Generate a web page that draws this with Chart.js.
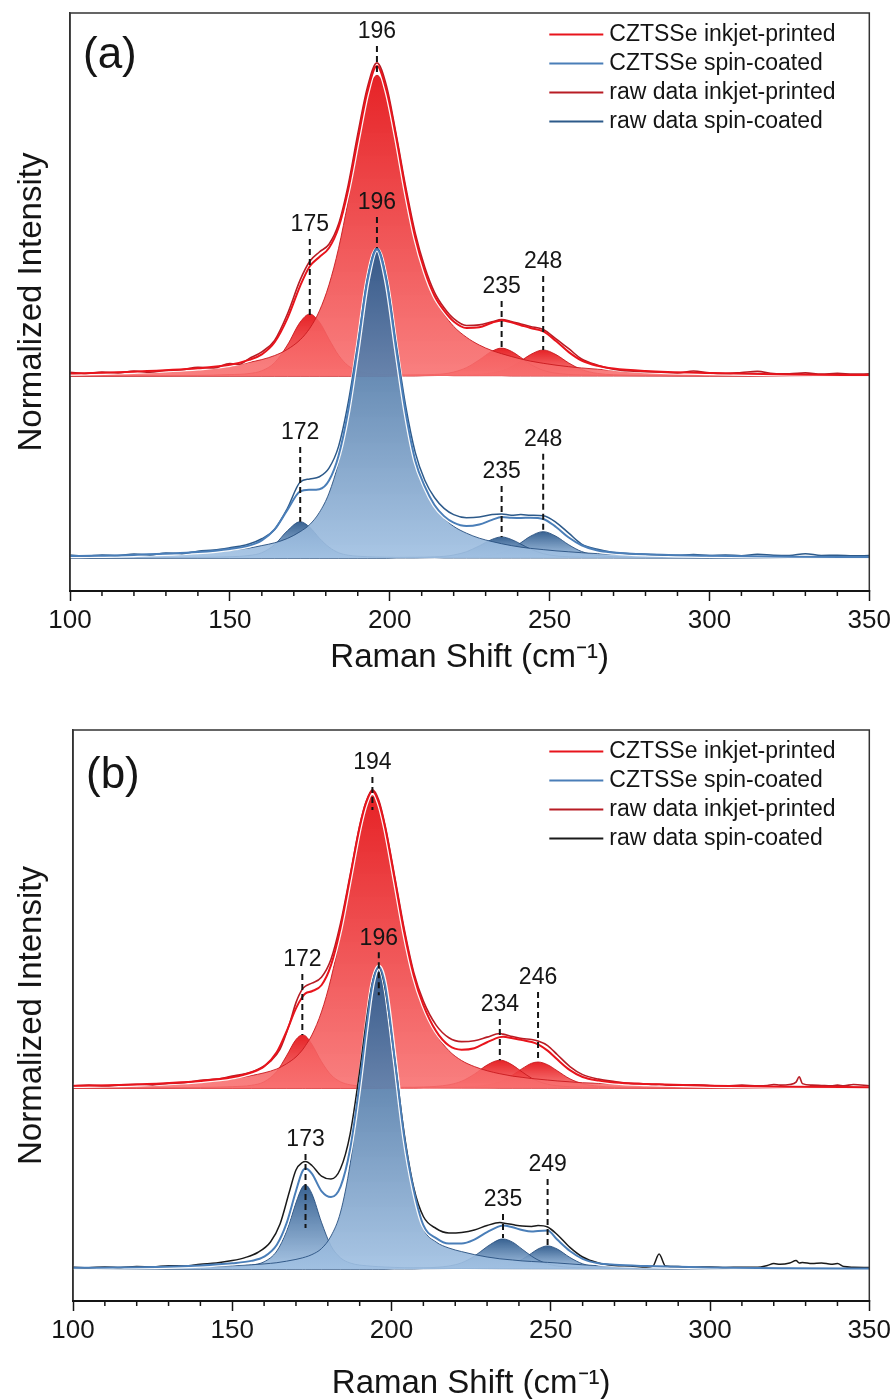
<!DOCTYPE html>
<html>
<head>
<meta charset="utf-8">
<script src="https://cdn.jsdelivr.net/npm/chart.js@4.4.1/dist/chart.umd.min.js"></script>
<style>
  html, body { margin: 0; padding: 0; background: #fff; }
  #wrapA { position: absolute; left: 0; top: 0; width: 895px; height: 700px; }
  #wrapB { position: absolute; left: 0; top: 700px; width: 895px; height: 705px; }
</style>
</head>
<body>
<div id="wrapA"><canvas id="chartA"></canvas></div>
<div id="wrapB"><canvas id="chartB"></canvas></div>
<script>
// ---------- panel (a) ----------
const shiftA = [100,120,140,150,156,160,164,168,172,175,178,181,184,187,190,193,196,199,202,205,208,211,214,217,220,224,228,232,235,238,241,244,248,252,256,260,265,270,280,300,325,350];
const fitRedA = [0.008,0.014,0.025,0.036,0.052,0.07,0.109,0.186,0.291,0.354,0.384,0.413,0.479,0.6,0.761,0.915,1.0,0.92,0.77,0.596,0.446,0.337,0.259,0.211,0.176,0.155,0.157,0.172,0.179,0.173,0.164,0.155,0.144,0.113,0.077,0.05,0.033,0.024,0.016,0.0094,0.005,0.003];
const p175RedA = [0,0.001,0.002,0.0045,0.008,0.017,0.043,0.1,0.174,0.2,0.174,0.119,0.067,0.033,0.017,0.009,0.006,0.005,0.004,0.003,0.003,0.002,0.002,0.002,0.001,0.001,0.001,0.001,0.001,0,0,0,0,0,0,0,0,0,0,0,0,0];
const p196RedA = [0.008,0.013,0.023,0.031,0.044,0.053,0.066,0.086,0.117,0.154,0.210,0.294,0.412,0.566,0.744,0.903,0.97,0.91,0.76,0.59,0.44,0.33,0.25,0.20,0.16,0.125,0.10,0.082,0.072,0.063,0.055,0.048,0.041,0.035,0.030,0.026,0.022,0.018,0.013,0.008,0.005,0.003];
const p235RedA = [0,0,0,0,0,0,0,0,0,0,0,0,0,0,0,0,0,0,0.002,0.0024,0.003,0.0037,0.005,0.007,0.0127,0.027,0.052,0.08,0.09,0.08,0.06,0.038,0.0185,0.009,0.005,0.0034,0.0024,0.0018,0.001,0.0005,0,0];
const p248RedA = [0,0,0,0,0,0,0,0,0,0,0,0,0,0,0,0,0,0,0,0,0,0.001,0.0015,0.002,0.0025,0.0034,0.0053,0.0099,0.0173,0.03,0.0486,0.069,0.084,0.069,0.042,0.021,0.0083,0.0042,0.002,0.0009,0.0005,0];
const fitBlueA = [0.006,0.01,0.019,0.029,0.04,0.057,0.092,0.155,0.215,0.22,0.222,0.25,0.33,0.475,0.678,0.892,0.995,0.89,0.675,0.468,0.314,0.23,0.171,0.135,0.114,0.103,0.108,0.123,0.132,0.13,0.129,0.13,0.126,0.10,0.066,0.041,0.024,0.018,0.012,0.007,0.004,0.003];
const p172BlueA = [0,0.001,0.002,0.004,0.008,0.017,0.043,0.088,0.117,0.099,0.064,0.035,0.017,0.009,0.0057,0.004,0.003,0.0025,0.002,0.002,0.0015,0.001,0.001,0,0,0,0,0,0,0,0,0,0,0,0,0,0,0,0,0,0,0];
const p196BlueA = [0.006,0.009,0.017,0.025,0.032,0.040,0.049,0.063,0.085,0.108,0.147,0.209,0.31,0.464,0.671,0.887,0.99,0.887,0.671,0.464,0.31,0.225,0.165,0.128,0.102,0.08,0.064,0.053,0.046,0.040,0.035,0.031,0.027,0.023,0.020,0.017,0.014,0.012,0.009,0.006,0.004,0.003];
const p235BlueA = [0,0,0,0,0,0,0,0,0,0,0,0,0,0,0,0,0,0,0.0015,0.0018,0.0023,0.0028,0.0038,0.0053,0.0096,0.020,0.039,0.06,0.068,0.06,0.045,0.029,0.014,0.0068,0.0038,0.0026,0.0018,0.0014,0.0008,0.0004,0,0];
const p248BlueA = [0,0,0,0,0,0,0,0,0,0,0,0,0,0,0,0,0,0,0,0,0,0.001,0.0015,0.002,0.0025,0.0034,0.0054,0.010,0.0175,0.030,0.049,0.07,0.085,0.07,0.0425,0.021,0.0084,0.0043,0.0025,0.0009,0.0005,0];
const rawShiftA = [100,105,110,115,120,125,130,135,140,145,150,153,156,160,164,168,172,175,178,181,184,187,190,193,196,199,202,205,208,211,214,217,220,224,228,232,235,238,241,244,248,252,256,260,265,270,275,280,285,290,295,300,305,310,315,320,325,330,335,340,345,350];
const rawRedA = [0.012,0.008,0.013,0.010,0.016,0.012,0.018,0.020,0.028,0.026,0.040,0.038,0.056,0.078,0.115,0.20,0.31,0.37,0.40,0.425,0.49,0.615,0.78,0.93,1.01,0.935,0.78,0.61,0.46,0.35,0.27,0.22,0.185,0.163,0.165,0.175,0.182,0.176,0.168,0.16,0.15,0.12,0.088,0.055,0.035,0.022,0.016,0.014,0.012,0.010,0.016,0.010,0.008,0.011,0.015,0.008,0.007,0.010,0.006,0.009,0.006,0.007];
const rawBlueA = [0.010,0.006,0.010,0.008,0.013,0.010,0.016,0.014,0.022,0.026,0.033,0.038,0.045,0.062,0.092,0.16,0.245,0.255,0.262,0.29,0.36,0.50,0.69,0.90,1.0,0.90,0.69,0.49,0.34,0.25,0.195,0.16,0.14,0.13,0.132,0.14,0.142,0.138,0.14,0.138,0.136,0.115,0.08,0.045,0.028,0.018,0.014,0.012,0.010,0.009,0.011,0.008,0.010,0.007,0.012,0.009,0.008,0.014,0.008,0.009,0.007,0.008];
const offsetRedA = 0.587;
const peaksRedA = [175,196,235,248];
const labelYRedA = [0.487,1.11,0.287,0.368];
const dashEndRedA = [0.19,0.97,0.09,0.084];
const peaksBlueA = [172,196,235,248];
const labelYBlueA = [0.403,1.145,0.277,0.381];
const dashEndBlueA = [0.117,1.0,0.068,0.084];

// ---------- panel (b) ----------
const shiftB = [100,120,140,150,156,160,164,167,170,172,173,175,178,181,184,187,190,192,194,196,198,201,204,207,210,214,218,222,226,230,234,235,238,241,244,246,249,252,256,260,265,270,280,300,325,350];
const fitRedB = [0.0077,0.0125,0.024,0.036,0.052,0.072,0.12,0.188,0.266,0.304,0.316,0.323,0.343,0.41,0.535,0.702,0.87,0.951,0.99,0.952,0.868,0.696,0.519,0.375,0.277,0.19,0.142,0.128,0.133,0.153,0.17,0.171,0.166,0.16,0.154,0.146,0.125,0.096,0.06,0.037,0.025,0.019,0.014,0.008,0.0045,0.003];
const p172RedB = [0.0005,0.001,0.0024,0.0049,0.0095,0.021,0.056,0.107,0.162,0.177,0.174,0.146,0.0885,0.044,0.021,0.011,0.0073,0.0059,0.0049,0.0042,0.0036,0.003,0.0024,0.002,0.0017,0.0014,0.0012,0.001,0.0009,0.0008,0,0,0,0,0,0,0,0,0,0,0,0,0,0,0,0];
const p194RedB = [0.0072,0.0115,0.0215,0.031,0.042,0.051,0.064,0.081,0.104,0.127,0.142,0.177,0.254,0.366,0.514,0.691,0.863,0.945,0.975,0.945,0.863,0.691,0.514,0.37,0.27,0.18,0.125,0.092,0.072,0.058,0.048,0.046,0.040,0.036,0.032,0.030,0.027,0.024,0.021,0.018,0.016,0.014,0.011,0.007,0.0045,0.003];
const p234RedB = [0,0,0,0,0,0,0,0,0,0,0,0,0,0,0,0,0,0,0,0,0.0018,0.002,0.0025,0.003,0.0038,0.0059,0.011,0.023,0.0465,0.077,0.093,0.092,0.077,0.054,0.033,0.023,0.013,0.0078,0.0047,0.0033,0.0023,0.0018,0.001,0.0005,0,0];
const p246RedB = [0,0,0,0,0,0,0,0,0,0,0,0,0,0,0,0,0,0,0,0,0,0,0,0,0.0017,0.002,0.0026,0.0036,0.0055,0.0102,0.0217,0.026,0.0435,0.065,0.083,0.087,0.078,0.058,0.031,0.0148,0.0063,0.0036,0.0019,0.0008,0.0004,0];
const fitBlueB = [0.004,0.006,0.012,0.019,0.027,0.041,0.081,0.151,0.26,0.325,0.335,0.318,0.26,0.24,0.275,0.4,0.62,0.795,0.948,1.008,0.945,0.7,0.44,0.262,0.146,0.103,0.085,0.085,0.098,0.123,0.143,0.145,0.139,0.13,0.125,0.127,0.128,0.098,0.06,0.034,0.019,0.014,0.0098,0.005,0.0025,0.0015];
const p173BlueB = [0.0008,0.0015,0.0038,0.0076,0.013,0.024,0.06,0.125,0.221,0.273,0.28,0.251,0.156,0.077,0.037,0.02,0.013,0.011,0.009,0.0076,0.0065,0.0052,0.0043,0.0036,0.003,0.0025,0.002,0.0017,0.0015,0.0013,0.0011,0.0011,0.001,0.001,0.0009,0.0009,0.0008,0.0008,0.0007,0.0006,0.0006,0.0005,0.0004,0.0003,0.0002,0.0002];
const p196BlueB = [0.003,0.0045,0.008,0.011,0.014,0.017,0.021,0.026,0.032,0.037,0.040,0.048,0.068,0.11,0.19,0.35,0.595,0.78,0.937,1.0,0.937,0.69,0.43,0.25,0.135,0.09,0.07,0.058,0.048,0.04,0.034,0.033,0.03,0.027,0.025,0.024,0.022,0.02,0.017,0.014,0.011,0.009,0.007,0.004,0.0025,0.0015];
const p235BlueB = [0,0,0,0,0,0,0,0,0,0,0,0,0,0,0,0,0,0,0,0,0,0.002,0.0025,0.003,0.0038,0.0056,0.0099,0.0206,0.0426,0.0745,0.0988,0.10,0.0895,0.0662,0.0426,0.03,0.017,0.0099,0.0056,0.0038,0.0027,0.002,0.0012,0.0006,0,0];
const p249BlueB = [0,0,0,0,0,0,0,0,0,0,0,0,0,0,0,0,0,0,0,0,0,0,0,0,0.001,0.0012,0.0015,0.0019,0.0026,0.004,0.0075,0.009,0.0172,0.032,0.0528,0.0667,0.077,0.0667,0.0385,0.0172,0.0068,0.003,0.0015,0.0006,0,0];
const rawShiftB = [100,105,110,115,120,125,130,135,140,145,150,154,158,162,165,168,170,172,173,175,178,181,184,187,190,192,194,196,198,201,204,207,210,214,218,222,226,230,234,235,238,241,244,246,249,252,256,260,265,270,275,280,282,284,286,290,295,300,305,310,315,318,320,322,325,327,328,329,332,335,338,340,342,345,350];
const rawRedB = [0.008,0.010,0.007,0.011,0.013,0.011,0.016,0.018,0.026,0.030,0.040,0.048,0.062,0.09,0.13,0.215,0.285,0.33,0.34,0.35,0.37,0.43,0.55,0.71,0.875,0.955,0.995,0.96,0.875,0.705,0.53,0.385,0.29,0.21,0.168,0.155,0.158,0.17,0.182,0.18,0.172,0.165,0.162,0.157,0.142,0.112,0.072,0.045,0.03,0.022,0.016,0.014,0.012,0.013,0.011,0.010,0.011,0.009,0.008,0.010,0.008,0.009,0.012,0.010,0.012,0.02,0.038,0.015,0.010,0.009,0.008,0.010,0.008,0.012,0.008];
const rawBlueB = [0.006,0.004,0.007,0.005,0.008,0.007,0.011,0.010,0.016,0.020,0.028,0.038,0.055,0.09,0.15,0.26,0.33,0.355,0.358,0.345,0.31,0.30,0.335,0.45,0.66,0.82,0.955,1.005,0.935,0.70,0.45,0.27,0.175,0.135,0.12,0.122,0.13,0.145,0.155,0.153,0.148,0.143,0.142,0.145,0.14,0.115,0.072,0.04,0.02,0.012,0.010,0.007,0.009,0.05,0.01,0.008,0.006,0.007,0.005,0.006,0.006,0.012,0.018,0.016,0.02,0.028,0.02,0.022,0.018,0.02,0.016,0.018,0.008,0.006,0.005];
const offsetRedB = 0.603;
const peaksRedB = [172,194,234,246];
const labelYRedB = [0.427,1.084,0.277,0.367];
const dashEndRedB = [0.177,0.927,0.093,0.087];
const peaksBlueB = [173,196,235,249];
const labelYBlueB = [0.43,1.103,0.23,0.347];
const dashEndBlueB = [0.137,0.913,0.103,0.077];

const legendText = ['CZTSSe inkjet-printed', 'CZTSSe spin-coated', 'raw data inkjet-printed', 'raw data spin-coated'];

// ---------- styling ----------
const FONT = "'Liberation Sans', Arial, sans-serif";
const INK = '#151515';
const RED_FIT = '#e8141c', RED_RAW = '#b81c24', RED_EDGE = 'rgba(200,25,30,0.9)';
const BLUE_FIT = '#4a7eb8', BLUE_RAW_A = '#2d5a8a', BLUE_EDGE = 'rgba(40,80,128,0.9)';
const RED_TOP = 'rgba(228,18,22,0.93)', RED_BOT = 'rgba(248,110,110,0.88)';
const BLUE_TOP = 'rgba(46,90,140,0.95)', BLUE_BOT = 'rgba(160,192,226,0.9)';

function pts(xs, ys, off) {
  return xs.map(function (x, i) { return { x: x, y: ys[i] + off }; });
}

function gradFill(off, peak, cTop, cBot) {
  return function (c) {
    const ch = c.chart;
    if (!ch.chartArea || !ch.scales.y) return cBot;
    const ys = ch.scales.y;
    const g = ch.ctx.createLinearGradient(0, ys.getPixelForValue(off + peak), 0, ys.getPixelForValue(off));
    g.addColorStop(0, cTop);
    g.addColorStop(1, cBot);
    return g;
  };
}

function compSet(xs, ys, off, edge, cTop, cBot, order) {
  return {
    data: pts(xs, ys, off),
    borderColor: edge, borderWidth: 1,
    fill: { value: off },
    backgroundColor: gradFill(off, Math.max.apply(null, ys), cTop, cBot),
    pointRadius: 0, cubicInterpolationMode: 'monotone', order: order
  };
}

function lineSet(label, xs, ys, off, color, width, order, legendIdx) {
  return {
    label: label, legendIdx: legendIdx,
    data: pts(xs, ys, off),
    borderColor: color, borderWidth: width, fill: false,
    pointRadius: 0, cubicInterpolationMode: 'monotone', order: order
  };
}

function makePanel(id, p) {
  const datasets = [];
  p.redComps.forEach(function (c) { datasets.push(compSet(p.shift, c, p.redOff, RED_EDGE, RED_TOP, RED_BOT, 20)); });
  datasets.push(lineSet('', p.shift, p.fitRed, p.redOff, 'rgba(255,255,255,0.95)', 4.5, 19, -1));
  datasets.push(lineSet(legendText[0], p.shift, p.fitRed, p.redOff, RED_FIT, 2, 17, 0));
  datasets.push(lineSet(legendText[2], p.rawShift, p.rawRed, p.redOff, RED_RAW, 1.6, 18, 2));
  p.blueComps.forEach(function (c) { datasets.push(compSet(p.shift, c, 0, BLUE_EDGE, BLUE_TOP, BLUE_BOT, 16)); });
  datasets.push(lineSet('', p.shift, p.fitBlue, 0, 'rgba(255,255,255,0.95)', 4.5, 15, -1));
  datasets.push(lineSet(legendText[1], p.shift, p.fitBlue, 0, BLUE_FIT, 2, 13, 1));
  datasets.push(lineSet(legendText[3], p.rawShift, p.rawBlue, 0, p.blueRaw, 1.5, 14, 3));

  const decor = {
    id: 'decor',
    afterDraw: function (chart) {
      const ctx = chart.ctx, a = chart.chartArea, xs = chart.scales.x, ys = chart.scales.y;
      ctx.save();
      // frame
      ctx.strokeStyle = '#333'; ctx.lineWidth = 1.5;
      ctx.strokeRect(a.left, a.top, a.right - a.left, a.bottom - a.top);
      ctx.strokeStyle = INK; ctx.lineWidth = 2;
      ctx.beginPath(); ctx.moveTo(a.left - 1, a.bottom); ctx.lineTo(a.right + 1, a.bottom); ctx.stroke();
      // minor ticks
      ctx.lineWidth = 1.5;
      for (let v = 110; v < 350; v += 10) {
        if (v % 50 === 0) continue;
        const x = xs.getPixelForValue(v);
        ctx.beginPath(); ctx.moveTo(x, a.bottom); ctx.lineTo(x, a.bottom + 5); ctx.stroke();
      }
      // peak markers
      ctx.font = '23px ' + FONT; ctx.fillStyle = INK; ctx.textAlign = 'center'; ctx.textBaseline = 'middle';
      p.markers.forEach(function (m) {
        m.peaks.forEach(function (pk, i) {
          const x = xs.getPixelForValue(pk);
          const yl = ys.getPixelForValue(m.labelY[i] + m.off);
          const yd = ys.getPixelForValue(m.dashEnd[i] + m.off);
          ctx.fillText(String(pk), x, yl);
          ctx.setLineDash([6, 4]); ctx.lineWidth = 2; ctx.strokeStyle = INK;
          ctx.beginPath(); ctx.moveTo(x, yl + 14); ctx.lineTo(x, yd); ctx.stroke();
          ctx.setLineDash([]);
        });
      });
      // panel letter
      ctx.font = '44px ' + FONT; ctx.textAlign = 'left';
      ctx.fillText(p.letter, a.left + 13, a.top + p.letterDy);
      // legend
      ctx.font = '23px ' + FONT;
      chart.data.datasets.filter(function (d) { return d.legendIdx >= 0; })
        .sort(function (u, v) { return u.legendIdx - v.legendIdx; })
        .forEach(function (d, k) {
          const y = a.top + 21.5 + k * 29;
          const x0 = a.right - 320;
          ctx.strokeStyle = d.borderColor; ctx.lineWidth = 2;
          ctx.beginPath(); ctx.moveTo(x0, y); ctx.lineTo(x0 + 54, y); ctx.stroke();
          ctx.fillStyle = INK;
          ctx.fillText(d.label, x0 + 60, y);
        });
      ctx.restore();
    }
  };

  return new Chart(document.getElementById(id), {
    type: 'line',
    data: { datasets: datasets },
    options: {
      responsive: true, maintainAspectRatio: false, animation: false,
      layout: { padding: { top: p.padTop, right: p.padRight, bottom: 0, left: 0 } },
      plugins: { legend: { display: false }, tooltip: { enabled: false } },
      scales: {
        x: {
          type: 'linear', min: 100, max: 350,
          ticks: { stepSize: 50, font: { family: FONT, size: 26 }, color: INK, padding: 4, maxRotation: 0 },
          grid: { display: true, drawOnChartArea: false, drawTicks: true, tickLength: 10, tickColor: INK, tickWidth: 1.5 },
          border: { display: true, color: INK, width: 2 },
          title: { display: true, text: 'Raman Shift (cm⁻¹)', font: { family: FONT, size: 33 }, color: INK, padding: { top: 0, bottom: p.xTitlePad } },
          afterFit: function (s) { s.height = p.xHeight; }
        },
        y: {
          min: p.yMin, max: p.yMax,
          ticks: { display: false },
          grid: { display: false, drawTicks: false },
          border: { display: true, color: '#333', width: 1.5 },
          title: { display: true, text: 'Normalized Intensity', font: { family: FONT, size: 33 }, color: INK, padding: { top: 12, bottom: 0 } },
          afterFit: function (s) { s.width = p.yWidth; }
        }
      }
    },
    plugins: [decor]
  });
}

makePanel('chartA', {
  shift: shiftA, rawShift: rawShiftA, redOff: offsetRedA,
  redComps: [p196RedA, p175RedA, p235RedA, p248RedA], fitRed: fitRedA, rawRed: rawRedA,
  blueComps: [p196BlueA, p172BlueA, p235BlueA, p248BlueA], fitBlue: fitBlueA, rawBlue: rawBlueA,
  blueRaw: BLUE_RAW_A,
  markers: [
    { peaks: peaksRedA, labelY: labelYRedA, dashEnd: dashEndRedA, off: offsetRedA },
    { peaks: peaksBlueA, labelY: labelYBlueA, dashEnd: dashEndBlueA, off: 0 }
  ],
  letter: '(a)', letterDy: 43,
  yMin: -0.1065, yMax: 1.758, padTop: 13, padRight: 24, yWidth: 70, xHeight: 109, xTitlePad: 22
});

makePanel('chartB', {
  shift: shiftB, rawShift: rawShiftB, redOff: offsetRedB,
  redComps: [p194RedB, p172RedB, p234RedB, p246RedB], fitRed: fitRedB, rawRed: rawRedB,
  blueComps: [p196BlueB, p173BlueB, p235BlueB, p249BlueB], fitBlue: fitBlueB, rawBlue: rawBlueB,
  blueRaw: '#1a1a1a',
  markers: [
    { peaks: peaksRedB, labelY: labelYRedB, dashEnd: dashEndRedB, off: offsetRedB },
    { peaks: peaksBlueB, labelY: labelYBlueB, dashEnd: dashEndBlueB, off: 0 }
  ],
  letter: '(b)', letterDy: 46,
  yMin: -0.1067, yMax: 1.797, padTop: 30, padRight: 25, yWidth: 73, xHeight: 104, xTitlePad: 1
});
</script>
</body>
</html>
